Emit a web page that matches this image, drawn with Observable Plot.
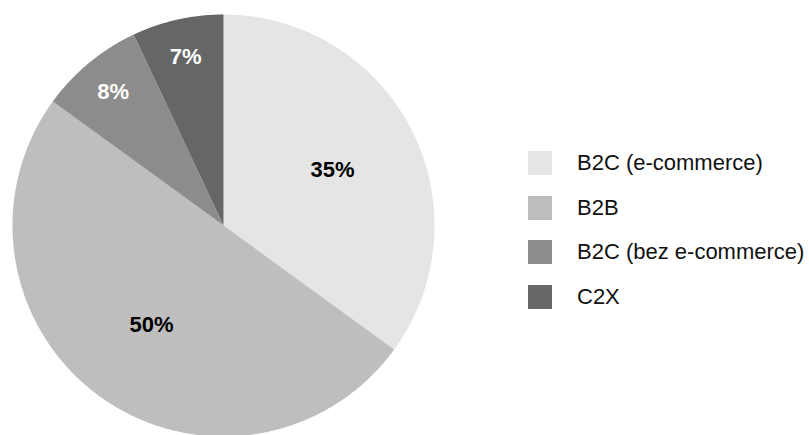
<!DOCTYPE html>
<html>
<head>
<meta charset="utf-8">
<script src="https://cdn.jsdelivr.net/npm/d3@7"></script>
<script src="https://cdn.jsdelivr.net/npm/@observablehq/plot@0.6"></script>
<style>
  html, body { margin: 0; padding: 0; background: #fff; }
  #wrap { position: relative; width: 809px; height: 435px; overflow: hidden; font-family: "Liberation Sans", Arial, sans-serif; }
  #legend { position: absolute; left: 528px; top: 151px; }
  .item { display: flex; align-items: center; height: 24px; margin-bottom: 20.5px; }
  .sw { width: 24px; height: 24px; margin-right: 25px; }
  .lab { font-size: 22px; color: #111; white-space: nowrap; }
</style>
</head>
<body>
<div id="wrap"><div id="chart"></div><div id="legend"></div></div>
<script>
const categories = ["B2C (e-commerce)", "B2B", "B2C (bez e-commerce)", "C2X"];
const shares = [35, 50, 8, 7];
const colors = ["#e5e5e5", "#bebebe", "#8c8c8c", "#666666"];

const cx = 223, cy = 225, R = 211;

const arcs = d3.pie().sort(null).value(d => d)(shares);

const slicePts = [];
arcs.forEach((a, i) => {
  slicePts.push({cat: categories[i], x: 0, y: 0});
  const n = Math.max(8, Math.ceil((a.endAngle - a.startAngle) / 0.005));
  for (let k = 0; k <= n; k++) {
    const t = a.startAngle + (a.endAngle - a.startAngle) * k / n;
    slicePts.push({cat: categories[i], x: Math.sin(t), y: Math.cos(t)});
  }
});

const labels = arcs.map((a, i) => {
  const mid = (a.startAngle + a.endAngle) / 2;
  const rho = shares[i] < 10 ? 0.82 : 0.58;
  return {
    cat: categories[i],
    text: shares[i] + "%",
    x: rho * Math.sin(mid),
    y: rho * Math.cos(mid),
    dark: d3.hsl(colors[i]).l < 0.6
  };
});

const chart = Plot.plot({
  width: 809,
  height: 435,
  margin: 0,
  x: {type: "linear", domain: [-1, 1], range: [cx - R, cx + R], axis: null},
  y: {type: "linear", domain: [-1, 1], range: [cy + R, cy - R], axis: null},
  color: {domain: categories, range: colors},
  style: {fontFamily: "Liberation Sans, Arial, sans-serif", background: "transparent"},
  marks: [
    Plot.line(slicePts, {x: "x", y: "y", z: "cat", fill: "cat", stroke: "none", curve: "linear-closed"}),
    Plot.text(labels.filter(d => !d.dark), {x: "x", y: "y", text: "text", fill: "#000", fontSize: 22, fontWeight: "bold"}),
    Plot.text(labels.filter(d => d.dark), {x: "x", y: "y", text: "text", fill: "#fff", fontSize: 22, fontWeight: "bold"})
  ]
});
document.getElementById("chart").appendChild(chart);

const leg = d3.select("#legend");
categories.forEach((c, i) => {
  const it = leg.append("div").attr("class", "item");
  it.append("div").attr("class", "sw").style("background", colors[i]);
  it.append("div").attr("class", "lab").text(c);
});
</script>
</body>
</html>
